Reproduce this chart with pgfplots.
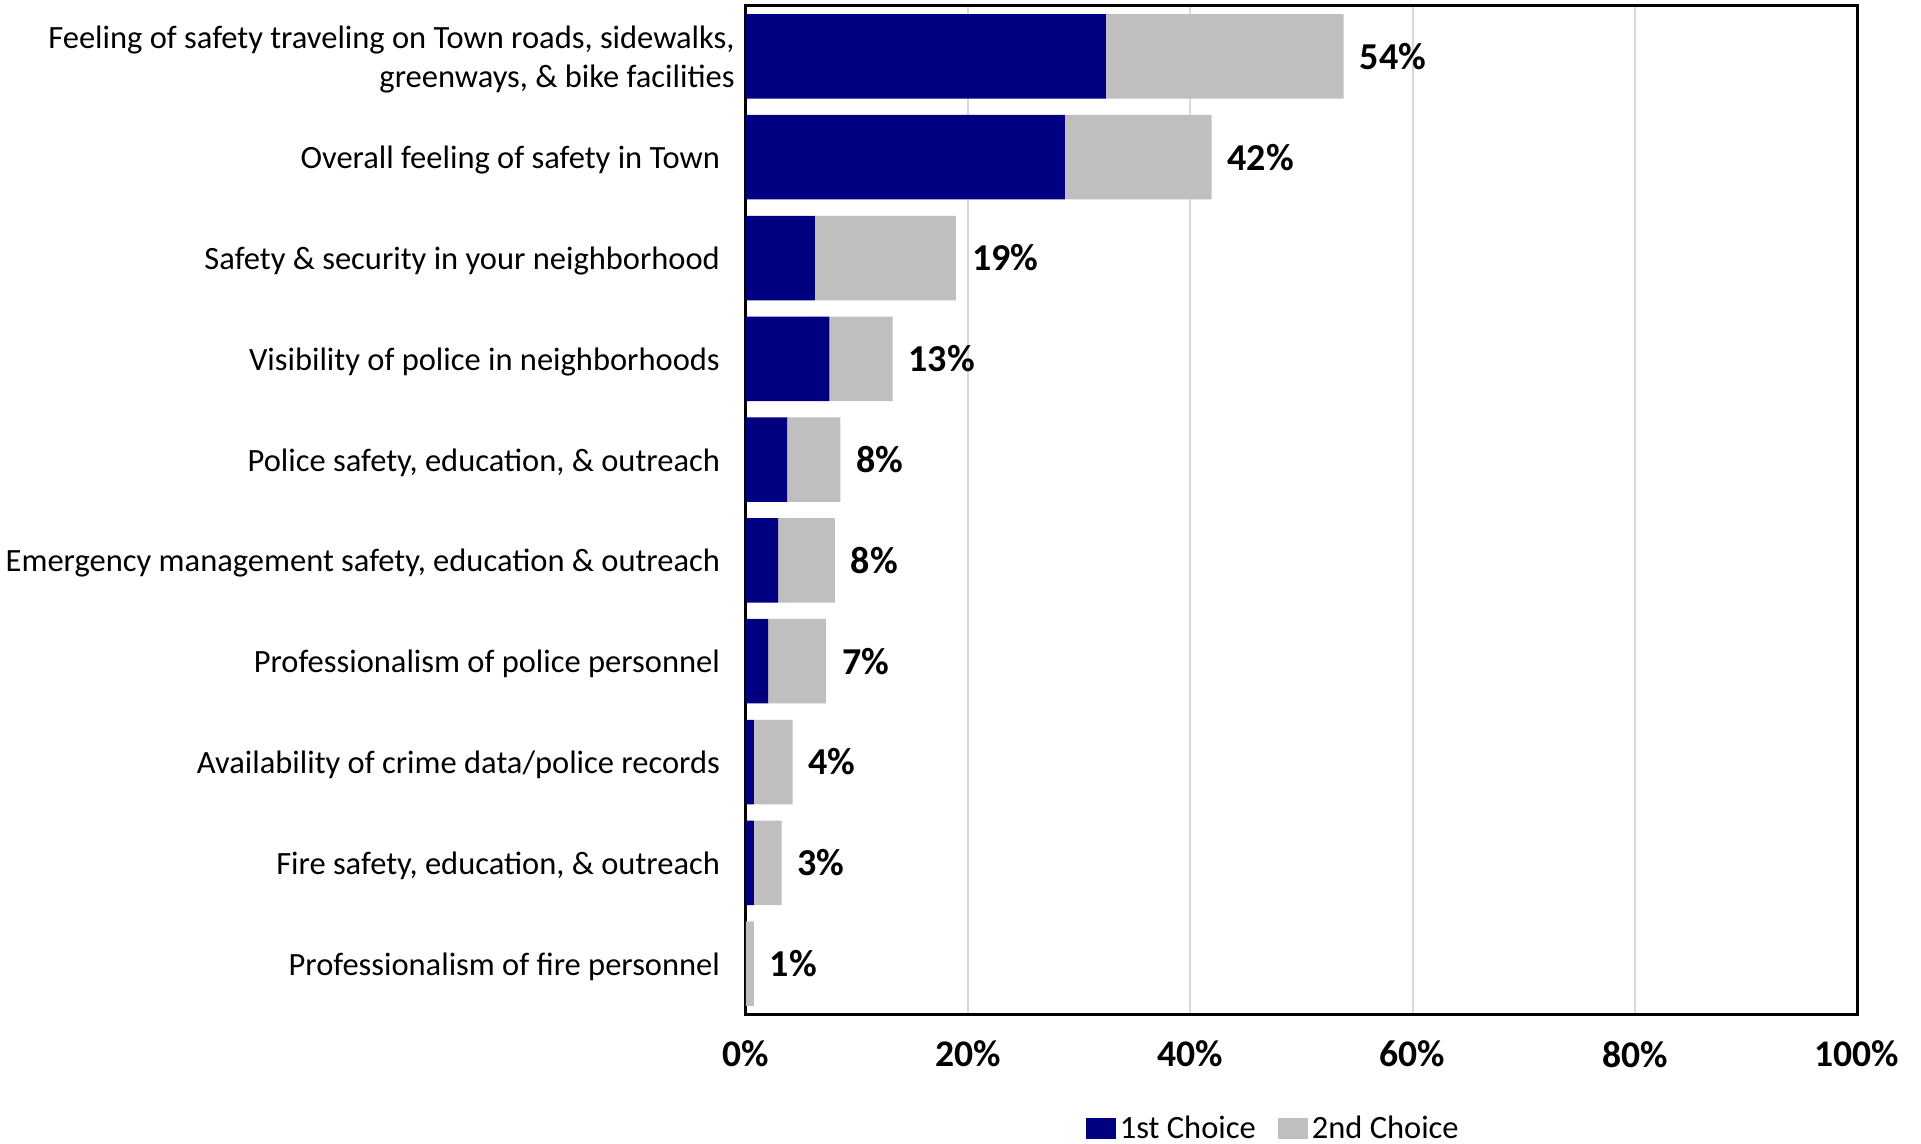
\documentclass[border=0pt]{standalone}
\usepackage{fontspec}
\setmainfont{Carlito}
\usepackage{pgfplots}
\pgfplotsset{compat=1.18}
\usepackage{pgfplotstable}
\definecolor{navyb}{HTML}{000080}
\definecolor{grayb}{HTML}{BFBFBF}
\definecolor{gridc}{HTML}{D9D9D9}
\pgfplotstableread{
idx first second zero tot
0 32.4 21.4 0.001 54
1 28.7 13.2 0.001 42
2 6.2 12.7 0.001 19
3 7.5 5.7 0.001 13
4 3.7 4.8 0.001 8
5 2.9 5.1 0.001 8
6 2.0 5.2 0.001 7
7 0.7 3.5 0.001 4
8 0.7 2.5 0.001 3
9 0.0 0.7 0.001 1
}\data
\begin{document}
\begin{tikzpicture}
\useasboundingbox (-373pt,-65pt) rectangle (587.5pt,507pt);
\begin{axis}[
  at={(0pt,0pt)}, anchor=south west,
  width=555.5pt, height=504pt, scale only axis,
  /pgf/number format/assume math mode=true,
  xbar stacked, bar width=42.25pt,
  xmin=0, xmax=100, ymin=-0.5, ymax=9.5, y dir=reverse,
  xtick={0,20,...,100},
  xticklabel={\pgfmathprintnumber{\tick}\%},
  xticklabel style={font=\bfseries\fontsize{18.8}{22}\selectfont, yshift=-10pt},
  ytick={0,...,9},
  yticklabels={{Feeling of safety traveling on Town roads, sidewalks,\hspace*{-7.3pt}\\greenways, \& bike facilities\hspace*{-7.3pt}},
    {Overall feeling of safety in Town},
    {Safety \& security in your neighborhood},
    {Visibility of police in neighborhoods},
    {Police safety, education, \& outreach},
    {Emergency management safety, education \& outreach},
    {Professionalism of police personnel},
    {Availability of crime data/police records},
    {Fire safety, education, \& outreach},
    {Professionalism of fire personnel}},
  yticklabel style={font=\fontsize{16.25}{19.5}\selectfont, align=right, xshift=-9.5pt, yshift=-1.5pt},
  major tick length=0pt,
  xmajorgrids, grid style={gridc, line width=1pt},
  axis line style={line width=1.5pt},
  legend style={at={(0.4755,-0.114)}, anchor=center, draw=none, inner sep=1pt,
    legend columns=-1, font=\fontsize{16.25}{19}\selectfont,
    /tikz/every even column/.append style={column sep=9pt},
    /tikz/every odd column/.append style={column sep=0pt}},
  legend image code/.code={\fill[#1] (0pt,-5.25pt) rectangle (15pt,5.25pt);},
]
\addplot[fill=navyb, draw=none] table[x=first, y=idx] {\data};
\addplot[fill=grayb, draw=none] table[x=second, y=idx] {\data};
\addplot[draw=none, fill=none, forget plot,
  point meta=explicit,
  nodes near coords={\pgfmathprintnumber{\pgfplotspointmeta}\%},
  nodes near coords style={font=\bfseries\fontsize{19}{22}\selectfont, anchor=west, xshift=4.5pt, text=black}]
  table[x=zero, y=idx, meta=tot] {\data};
\legend{1st Choice, 2nd Choice}
\end{axis}
\end{tikzpicture}
\end{document}
